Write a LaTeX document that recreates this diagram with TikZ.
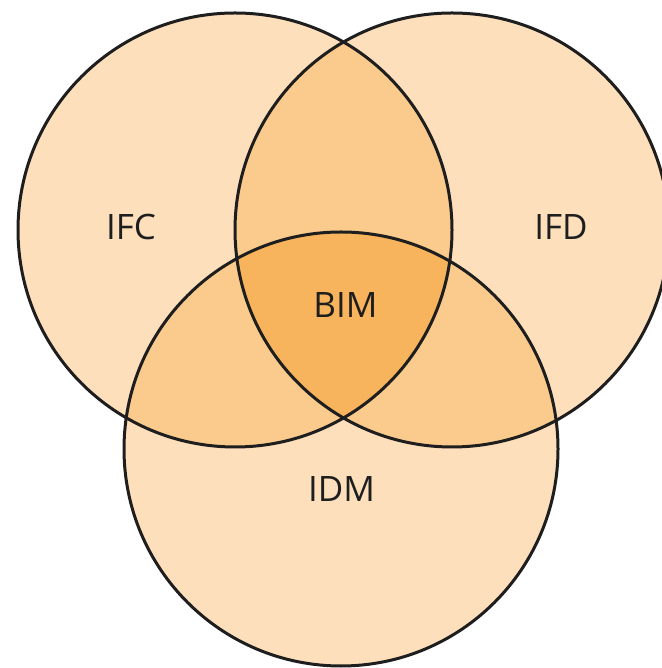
\documentclass[tikz,border=0pt]{standalone}
\usepackage{fontspec}
\setmainfont{Open Sans}
\definecolor{one}{HTML}{FDDFBC}
\definecolor{two}{HTML}{FACB8D}
\definecolor{three}{HTML}{F7B45C}
\definecolor{ink}{HTML}{1E1E1E}
\tikzset{ring/.style={draw=ink, line width=3pt},
  lbl/.style={text=ink, font=\fontsize{35}{40}\selectfont, inner sep=0pt}}
\begin{document}
\begin{tikzpicture}[x=1pt,y=1pt]
\useasboundingbox (0,0) rectangle (661,668);
\coordinate (a) at (235,438);
\coordinate (b) at (452,438);
\coordinate (c) at (341,219);
\def\R{217pt}
\fill[one] (a) circle[radius=\R];
\fill[one] (b) circle[radius=\R];
\fill[one] (c) circle[radius=\R];
\begin{scope}\clip (a) circle[radius=\R]; \fill[two] (b) circle[radius=\R]; \fill[two] (c) circle[radius=\R];\end{scope}
\begin{scope}\clip (b) circle[radius=\R]; \fill[two] (c) circle[radius=\R];\end{scope}
\begin{scope}\clip (a) circle[radius=\R]; \clip (b) circle[radius=\R]; \fill[three] (c) circle[radius=\R];\end{scope}
\draw[ring] (a) circle[radius=\R];
\draw[ring] (b) circle[radius=\R];
\draw[ring] (c) circle[radius=\R];
\node[lbl] (ifc) at (131,441) {IFC};
\node[lbl] (ifd) at (561,441) {IFD};
\node[lbl] (bim) at (345.5,363) {BIM};
\node[lbl] (idm) at (341.5,179) {IDM};
\end{tikzpicture}
\end{document}
